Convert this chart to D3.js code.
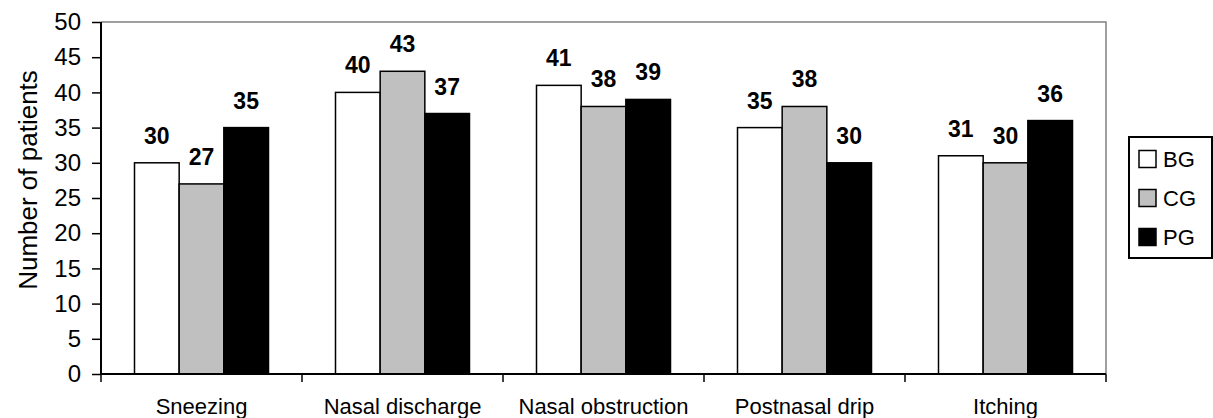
<!DOCTYPE html>
<html>
<head>
<meta charset="utf-8">
<script src="https://cdn.jsdelivr.net/npm/d3@7"></script>
<style>
  body { margin: 0; background: #fff; }
  svg { display: block; font-family: Arial, "Liberation Sans", sans-serif; }
</style>
</head>
<body>
<svg id="chart" width="1213" height="418"></svg>
<script>
// Symptom counts per group
const categories = ["Sneezing", "Nasal discharge", "Nasal obstruction", "Postnasal drip", "Itching"];
const seriesNames = ["BG", "CG", "PG"];
const bgValues = [30, 40, 41, 35, 31];
const cgValues = [27, 43, 38, 38, 30];
const pgValues = [35, 37, 39, 30, 36];
const yTicks = [0, 5, 10, 15, 20, 25, 30, 35, 40, 45, 50];
const seriesColors = ["#ffffff", "#c0c0c0", "#000000"];

const seriesValues = [bgValues, cgValues, pgValues];

const svg = d3.select("#chart");
const plot = { left: 101, right: 1106, top: 22, bottom: 374 };

const x = d3.scaleBand().domain(categories).range([plot.left, plot.right]);
// 150% gap between groups: group = 3 bars, gap = 1.5 bars
const inner = d3.scaleBand().domain(seriesNames)
  .range([0, x.bandwidth()]).paddingInner(0).paddingOuter(0.75);
const y = d3.scaleLinear().domain([0, 50]).range([plot.bottom, plot.top]);

// Plot frame (top and right edges in gray)
svg.append("path")
  .attr("d", `M${plot.left},${plot.top}H${plot.right}V${plot.bottom}`)
  .attr("fill", "none").attr("stroke", "#808080").attr("stroke-width", 1.5);

// Bars with value labels
categories.forEach((cat, ci) => {
  const g = svg.append("g").attr("transform", `translate(${x(cat)},0)`);
  seriesNames.forEach((s, si) => {
    const v = seriesValues[si][ci];
    g.append("rect")
      .attr("x", inner(s)).attr("width", inner.bandwidth())
      .attr("y", y(v)).attr("height", y(0) - y(v))
      .attr("fill", seriesColors[si])
      .attr("stroke", "#000").attr("stroke-width", 1.5);
    g.append("text")
      .attr("x", inner(s) + inner.bandwidth() / 2)
      .attr("y", y(v) - 19)
      .attr("text-anchor", "middle")
      .attr("font-size", 23).attr("font-weight", "bold")
      .text(v);
  });
});

// Y axis
const yAxis = svg.append("g")
  .attr("transform", `translate(${plot.left},0)`)
  .call(d3.axisLeft(y).tickValues(yTicks).tickSize(9).tickPadding(11));
yAxis.select(".domain").attr("stroke", "#000").attr("stroke-width", 2)
  .attr("d", `M0,${plot.top}V${plot.bottom}`);
yAxis.selectAll(".tick line").attr("stroke", "#000").attr("stroke-width", 1.5);
yAxis.selectAll(".tick text").attr("font-size", 24).attr("fill", "#000")
  .attr("font-family", "Arial, 'Liberation Sans', sans-serif");

// X axis with ticks at category boundaries
const xAxisG = svg.append("g").attr("transform", `translate(0,${plot.bottom})`);
xAxisG.append("line")
  .attr("x1", plot.left).attr("x2", plot.right)
  .attr("stroke", "#000").attr("stroke-width", 2);
const boundaries = categories.map(c => x(c)).concat([x(categories[categories.length - 1]) + x.bandwidth()]);
xAxisG.selectAll("line.tk").data(boundaries).enter().append("line")
  .attr("class", "tk")
  .attr("x1", d => d).attr("x2", d => d).attr("y1", 0).attr("y2", 8)
  .attr("stroke", "#000").attr("stroke-width", 1.5);
xAxisG.selectAll("text").data(categories).enter().append("text")
  .attr("x", d => x(d) + x.bandwidth() / 2)
  .attr("y", 40)
  .attr("text-anchor", "middle")
  .attr("font-size", 22)
  .text(d => d);

// Y axis title
svg.append("text")
  .attr("transform", "translate(37,180) rotate(-90)")
  .attr("text-anchor", "middle")
  .attr("font-size", 26)
  .text("Number of patients");

// Legend
const legend = svg.append("g").attr("transform", "translate(1129,137)");
legend.append("rect")
  .attr("width", 83).attr("height", 121)
  .attr("fill", "#fff").attr("stroke", "#000").attr("stroke-width", 2);
seriesNames.forEach((s, i) => {
  const row = legend.append("g").attr("transform", `translate(10,${22 + i * 39})`);
  row.append("rect")
    .attr("x", 0).attr("y", -8.5).attr("width", 17).attr("height", 17)
    .attr("fill", seriesColors[i]).attr("stroke", "#000").attr("stroke-width", 1.5);
  row.append("text")
    .attr("x", 24).attr("y", 8)
    .attr("font-size", 22)
    .text(s);
});
</script>
</body>
</html>
